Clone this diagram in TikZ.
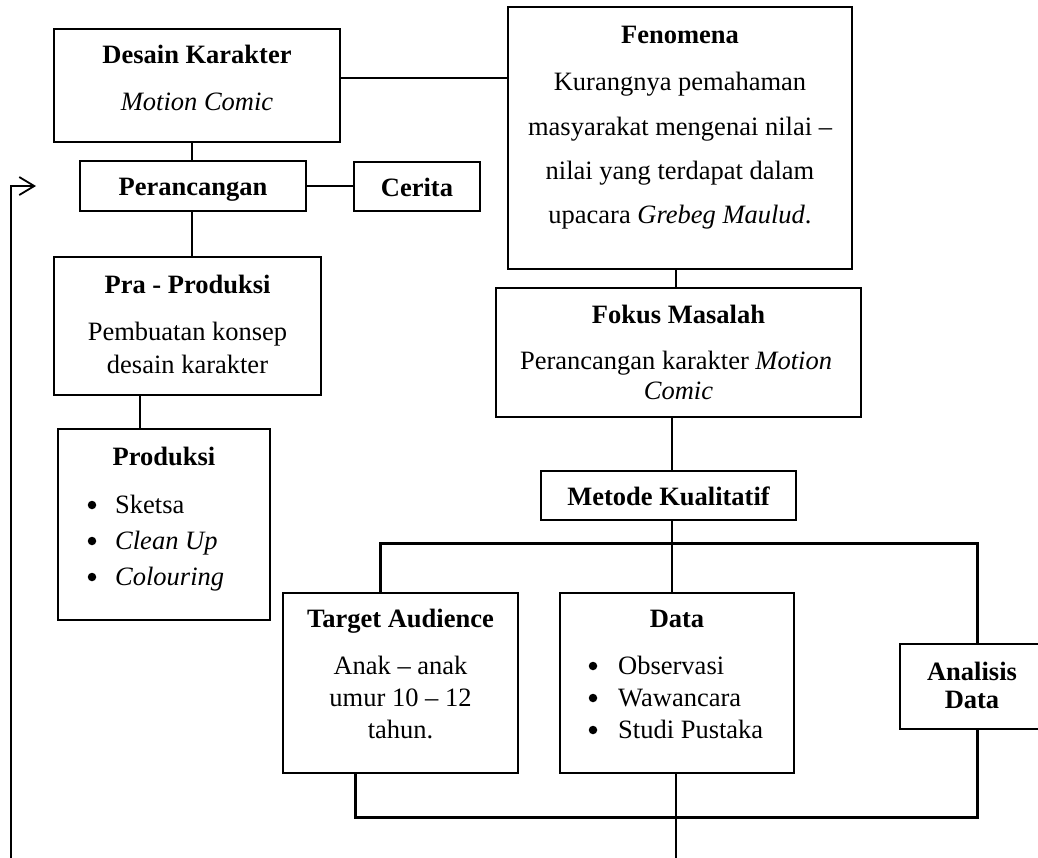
\documentclass[tikz,border=0pt]{standalone}
\usepackage{fontspec}
\setmainfont{Liberation Serif}
\usetikzlibrary{arrows.meta}
\begin{document}
\begin{tikzpicture}[x=1pt,y=-1pt,
  box/.style={draw, line width=1.1pt, inner sep=0pt, outer sep=0pt},
  txt/.style={anchor=base, inner sep=0pt, font=\fontsize{26.5pt}{30pt}\selectfont},
  btxt/.style={anchor=base, inner sep=0pt, font=\fontsize{26.5pt}{30pt}\selectfont\bfseries},
  ltxt/.style={anchor=base west, inner sep=0pt, font=\fontsize{26.5pt}{30pt}\selectfont},
  bul/.style={circle, fill=black, inner sep=0pt, minimum size=8.5pt},
  conn/.style={line width=1.1pt},
  heavy/.style={line width=3pt},
  loopline/.style={line width=2.6pt, -{Straight Barb[length=15pt,width=18pt,line width=1.8pt]}}
]
\useasboundingbox (0,0) rectangle (1038,857);
\clip (0,0) rectangle (1038,857);

% boxes
\node[box, minimum width=286pt, minimum height=113pt] (desain) at (197,85.5) {};
\node[box, minimum width=344pt, minimum height=262pt] (fenomena) at (680,138) {};
\node[box, minimum width=226pt, minimum height=50pt] (peran) at (193,186) {};
\node[box, minimum width=126pt, minimum height=49pt] (cerita) at (417,186.5) {};
\node[box, minimum width=267pt, minimum height=138pt] (pra) at (187.5,326) {};
\node[box, minimum width=212pt, minimum height=191pt] (produksi) at (164,524.5) {};
\node[box, minimum width=365pt, minimum height=129pt] (fokus) at (678.5,352.5) {};
\node[box, minimum width=255pt, minimum height=49pt] (metode) at (668.5,495.5) {};
\node[box, minimum width=235pt, minimum height=180pt] (target) at (400.5,683) {};
\node[box, minimum width=234pt, minimum height=180pt] (data) at (677,683) {};
\node[box, minimum width=144pt, minimum height=85pt] (analisis) at (972,686.5) {};

% texts
\node[btxt] (t-desain) at (197,63) {Desain Karakter};
\node[txt] (t-desain2) at (197,110) {\itshape Motion Comic};

\node[btxt] (t-fen) at (680,43) {Fenomena};
\node[txt] (t-fen1) at (680,90) {Kurangnya pemahaman};
\node[txt] (t-fen2) at (680,135) {masyarakat mengenai nilai –};
\node[txt] (t-fen3) at (680,179) {nilai yang terdapat dalam};
\node[txt] (t-fen4) at (680,223) {upacara \textit{Grebeg Maulud}.};

\node[btxt] (t-peran) at (193,195) {Perancangan};
\node[btxt] (t-cerita) at (417,196) {Cerita};

\node[btxt] (t-pra) at (187.5,293) {Pra - Produksi};
\node[txt] (t-pra1) at (187.5,340) {Pembuatan konsep};
\node[txt] (t-pra2) at (187.5,373) {desain karakter};

\node[btxt] (t-prod) at (164,465) {Produksi};
\node[bul] (b-prod1) at (92,505) {};
\node[bul] (b-prod2) at (92,541) {};
\node[bul] (b-prod3) at (92,577) {};
\node[ltxt] (t-prod1) at (115,513) {Sketsa};
\node[ltxt] (t-prod2) at (115,549) {\itshape Clean Up};
\node[ltxt] (t-prod3) at (115,585) {\itshape Colouring};

\node[btxt] (t-fokus) at (678.5,323) {Fokus Masalah};
\node[txt] (t-fokus1) at (676,369) {Perancangan karakter \textit{Motion}};
\node[txt] (t-fokus2) at (678.5,399) {\itshape Comic};

\node[btxt] (t-metode) at (668.5,505) {Metode Kualitatif};

\node[btxt] (t-target) at (400.5,627) {Target Audience};
\node[txt] (t-target1) at (400.5,674) {Anak – anak};
\node[txt] (t-target2) at (400.5,706) {umur 10 – 12};
\node[txt] (t-target3) at (400.5,738) {tahun.};

\node[btxt] (t-data) at (677,627) {Data};
\node[bul] (b-data1) at (593,666) {};
\node[bul] (b-data2) at (593,698) {};
\node[bul] (b-data3) at (593,730) {};
\node[ltxt] (t-data1) at (618,674) {Observasi};
\node[ltxt] (t-data2) at (618,706) {Wawancara};
\node[ltxt] (t-data3) at (618,738) {Studi Pustaka};

\node[btxt] (t-anal1) at (972,680) {Analisis};
\node[btxt] (t-anal2) at (972,708) {Data};

% helper coordinates
\coordinate (y78) at (0,78);
\coordinate (x192) at (192,0);
\coordinate (x140) at (140,0);
\coordinate (x676) at (676,0);
\coordinate (x672) at (672,0);
\coordinate (b1) at (380,543);
\coordinate (b2) at (977,543);
\coordinate (b3) at (355,817);
\coordinate (b4) at (977,817);
\coordinate (bottomend) at (676,860);
\coordinate (loopbot) at (11,860);
\coordinate (loopcorner) at (11,186);
\coordinate (looptip) at (36,186);

% connectors
\draw[conn] (desain.east |- y78) -- (fenomena.west |- y78);
\draw[conn] (desain.south -| x192) -- (peran.north -| x192);
\draw[conn] (peran.east) -- (cerita.west |- peran.east);
\draw[conn] (peran.south -| x192) -- (pra.north -| x192);
\draw[conn] (pra.south -| x140) -- (produksi.north -| x140);
\draw[conn] (fenomena.south -| x676) -- (fokus.north -| x676);
\draw[conn] (fokus.south -| x672) -- (metode.north -| x672);
\draw[conn] (metode.south -| x672) -- (data.north -| x672);
\draw[conn] (data.south -| bottomend) -- (bottomend);
\draw[heavy] (target.north -| b1) -- (b1) -- (b2) -- (analisis.north -| b2);
\draw[heavy] (target.south -| b3) -- (b3) -- (b4) -- (analisis.south -| b4);
\draw[loopline] (loopbot) -- (loopcorner) -- (looptip);
\end{tikzpicture}
\end{document}
